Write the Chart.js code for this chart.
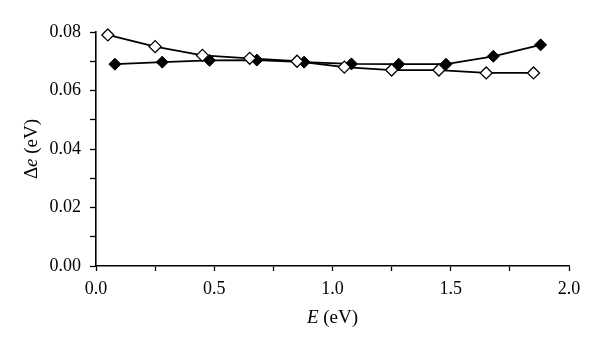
<!DOCTYPE html>
<html>
<head>
<meta charset="utf-8">
<script src="https://cdn.jsdelivr.net/npm/chart.js@4.4.1/dist/chart.umd.min.js"></script>
<style>
  html, body { margin: 0; padding: 0; background: #fff; }
  #wrap { width: 600px; height: 351px; }
</style>
</head>
<body>
<div id="wrap"><canvas id="myChart"></canvas></div>
<script>
// open diamonds
const eOpen = [0.05, 0.25, 0.45, 0.65, 0.85, 1.05, 1.25, 1.45, 1.65, 1.85];
const deOpen = [0.079, 0.075, 0.072, 0.071, 0.070, 0.068, 0.067, 0.067, 0.066, 0.066];
// filled diamonds
const eFilled = [0.08, 0.28, 0.48, 0.68, 0.88, 1.08, 1.28, 1.48, 1.68, 1.88];
const deFilled = [0.069, 0.0697, 0.0703, 0.0704, 0.0697, 0.0691, 0.069, 0.069, 0.0717, 0.0756];
// labelled ticks (others are minor)
const xLabels = ['0.0', '0.5', '1.0', '1.5', '2.0'];
const yLabels = ['0.00', '0.02', '0.04', '0.06', '0.08'];

const serif = "'Liberation Serif', 'DejaVu Serif', serif";

function toPoints(xs, ys) {
    return xs.map((x, i) => ({ x: x, y: ys[i] }));
}

// axis titles with an italic letter, drawn after the chart
const axisTitles = {
    id: 'axisTitles',
    afterDraw(chart) {
        const ctx = chart.ctx;
        const a = chart.chartArea;
        ctx.save();
        ctx.fillStyle = '#000';
        ctx.textBaseline = 'middle';
        // x title: E (eV)
        let it = 'italic 19px ' + serif, rg = '19px ' + serif;
        ctx.font = it; const w1 = ctx.measureText('E').width;
        ctx.font = rg; const w2 = ctx.measureText(' (eV)').width;
        let x0 = (a.left + a.right) / 2 - (w1 + w2) / 2;
        ctx.textAlign = 'left';
        ctx.font = it; ctx.fillText('E', x0, 318);
        ctx.font = rg; ctx.fillText(' (eV)', x0 + w1, 318);
        // y title: Δe (eV)
        ctx.translate(32, (a.top + a.bottom) / 2);
        ctx.rotate(-Math.PI / 2);
        ctx.font = rg; const d1 = ctx.measureText('\u0394').width;
        ctx.font = it; const d2 = ctx.measureText('e').width;
        ctx.font = rg; const d3 = ctx.measureText(' (eV)').width;
        let y0 = -(d1 + d2 + d3) / 2;
        ctx.font = rg; ctx.fillText('\u0394', y0, 0);
        ctx.font = it; ctx.fillText('e', y0 + d1, 0);
        ctx.font = rg; ctx.fillText(' (eV)', y0 + d1 + d2, 0);
        ctx.restore();
    }
};

const ctx = document.getElementById('myChart').getContext('2d');
const myChart = new Chart(ctx, {
    type: 'line',
    data: {
        datasets: [
            {
                label: 'open',
                data: toPoints(eOpen, deOpen),
                borderColor: '#000',
                borderWidth: 1.8,
                pointStyle: 'rectRot',
                pointRadius: 6,
                pointBackgroundColor: '#fff',
                pointBorderColor: '#000',
                pointBorderWidth: 1.3,
                tension: 0,
                clip: false
            },
            {
                label: 'filled',
                data: toPoints(eFilled, deFilled),
                borderColor: '#000',
                borderWidth: 1.8,
                pointStyle: 'rectRot',
                pointRadius: 6,
                pointBackgroundColor: '#000',
                pointBorderColor: '#000',
                pointBorderWidth: 1,
                tension: 0,
                clip: false
            }
        ]
    },
    options: {
        responsive: true,
        maintainAspectRatio: false,
        animation: false,
        layout: { padding: { top: 32, right: 31, left: 0, bottom: 0 } },
        scales: {
            x: {
                type: 'linear',
                min: 0,
                max: 2,
                afterFit: (s) => { s.height = 85; },
                afterBuildTicks: (s) => {
                    s.ticks = [0, 0.25, 0.5, 0.75, 1, 1.25, 1.5, 1.75, 2].map(v => ({ value: v }));
                },
                border: { display: true, color: '#000', width: 1.6 },
                grid: { drawOnChartArea: false, drawTicks: true, tickLength: 5, color: '#000', tickWidth: 1.3 },
                ticks: {
                    autoSkip: false,
                    maxRotation: 0,
                    padding: 7,
                    color: '#000',
                    font: { family: serif, size: 18 },
                    callback: function (value) {
                        const i = xLabels.indexOf(value.toFixed(1));
                        return (Math.abs(value * 2 - Math.round(value * 2)) < 1e-6 && i >= 0) ? xLabels[i] : '';
                    }
                }
            },
            y: {
                min: 0,
                max: 0.08,
                afterFit: (s) => { s.width = 96; },
                afterBuildTicks: (s) => {
                    s.ticks = [0, 0.01, 0.02, 0.03, 0.04, 0.05, 0.06, 0.07, 0.08].map(v => ({ value: v }));
                },
                border: { display: true, color: '#000', width: 1.6 },
                grid: { drawOnChartArea: false, drawTicks: true, tickLength: 6, color: '#000', tickWidth: 1.3 },
                ticks: {
                    autoSkip: false,
                    padding: 9,
                    color: '#000',
                    font: { family: serif, size: 18 },
                    callback: function (value) {
                        const lbl = value.toFixed(2);
                        return yLabels.indexOf(lbl) >= 0 && Math.round(value * 100) % 2 === 0 ? lbl : '';
                    }
                }
            }
        },
        plugins: {
            legend: { display: false },
            tooltip: { enabled: false }
        }
    },
    plugins: [axisTitles]
});
</script>
</body>
</html>
